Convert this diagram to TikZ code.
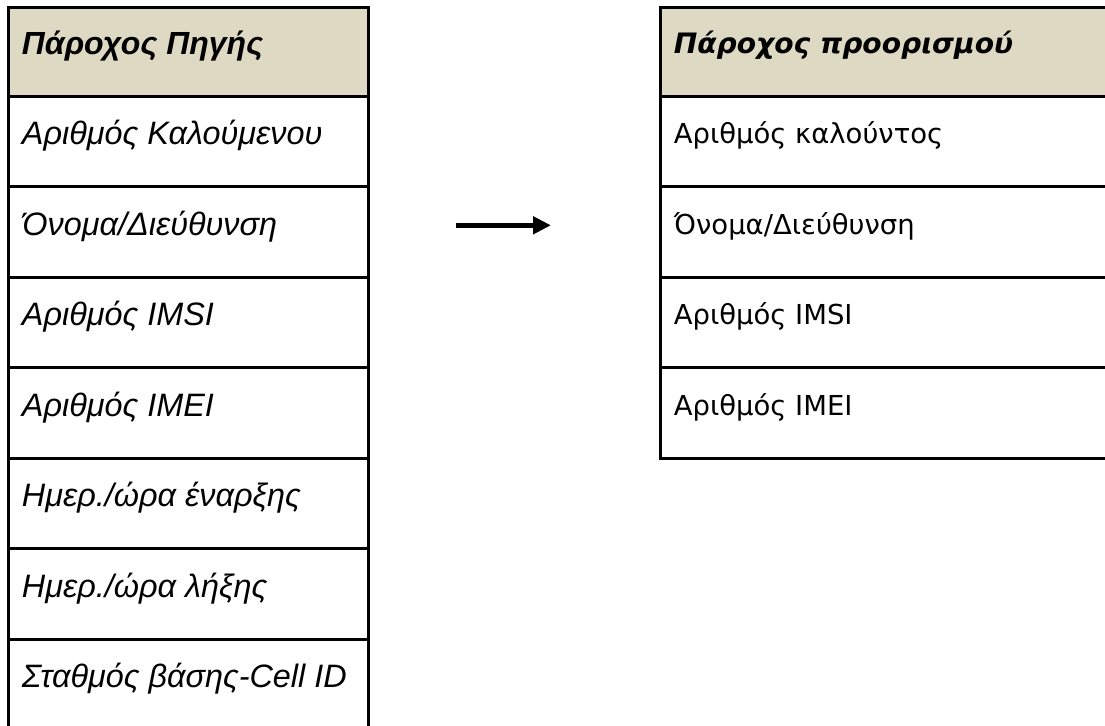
\documentclass[tikz,border=0pt]{standalone}
\usepackage{fontspec}
\setmainfont{Liberation Sans}
\newfontfamily\destfont{DejaVu Sans}
\usetikzlibrary{arrows.meta}
\definecolor{headtan}{HTML}{DDD9C3}
\begin{document}
\begin{tikzpicture}[x=0.75pt,y=-0.75pt,
  cell/.style={draw=black, line width=2pt, inner sep=0pt, outer sep=0pt,
    anchor=north west, minimum height=67.875pt},
  srccell/.style={cell, minimum width=269.7pt},
  dstcell/.style={cell, minimum width=350pt},
  head/.style={fill=headtan, minimum height=66.5pt},
  srctext/.style={anchor=base west, inner sep=0pt, font=\fontsize{24.3}{29}\selectfont\itshape},
  srchead/.style={srctext, font=\fontsize{24}{29}\selectfont\bfseries\itshape},
  dsttext/.style={anchor=base west, inner sep=0pt, font=\destfont\fontsize{20.6}{25}\selectfont},
  dsthead/.style={dsttext, font=\destfont\fontsize{21.1}{25}\selectfont\bfseries\itshape}]
\useasboundingbox (0,0) rectangle (1105,725);

% source provider table
\node[srccell, head] (sh) at (8.7,7.3) {};
\node[srccell] (s1) at (8.7,96.3) {};
\node[srccell] (s2) at (8.7,186.8) {};
\node[srccell] (s3) at (8.7,277.3) {};
\node[srccell] (s4) at (8.7,367.8) {};
\node[srccell] (s5) at (8.7,458.3) {};
\node[srccell] (s6) at (8.7,548.8) {};
\node[srccell] (s7) at (8.7,639.3) {};

\node[srchead] (tsh) at ([shift={(13,47)}]sh.north west) {Πάροχος Πηγής};
\node[srctext] (ts1) at ([shift={(13,48.5)}]s1.north west) {Αριθμός Καλούμενου};
\node[srctext] (ts2) at ([shift={(13,48.5)}]s2.north west) {Όνομα/Διεύθυνση};
\node[srctext] (ts3) at ([shift={(13,48.5)}]s3.north west) {Αριθμός IMSI};
\node[srctext] (ts4) at ([shift={(13,48.5)}]s4.north west) {Αριθμός IMEI};
\node[srctext] (ts5) at ([shift={(13,48.5)}]s5.north west) {Ημερ./ώρα έναρξης};
\node[srctext] (ts6) at ([shift={(13,48.5)}]s6.north west) {Ημερ./ώρα λήξης};
\node[srctext] (ts7) at ([shift={(13,48.5)}]s7.north west) {Σταθμός βάσης-Cell ID};

% destination provider table
\node[dstcell, head] (dh) at (660.5,7.3) {};
\node[dstcell] (d1) at (660.5,96.3) {};
\node[dstcell] (d2) at (660.5,186.8) {};
\node[dstcell] (d3) at (660.5,277.3) {};
\node[dstcell] (d4) at (660.5,367.8) {};

\node[dsthead] (tdh) at ([shift={(13,46.5)}]dh.north west) {Πάροχος προορισμού};
\node[dsttext] (td1) at ([shift={(13,47.5)}]d1.north west) {Αριθμός καλούντος};
\node[dsttext] (td2) at ([shift={(13,47.5)}]d2.north west) {Όνομα/Διεύθυνση};
\node[dsttext] (td3) at ([shift={(13,47.5)}]d3.north west) {Αριθμός IMSI};
\node[dsttext] (td4) at ([shift={(13,47.5)}]d4.north west) {Αριθμός IMEI};

% transfer arrow
\coordinate (arrfrom) at (456,225.3);
\coordinate (arrto) at (551,225.3);
\draw[line width=3.4pt, -{Triangle[length=13.5pt, width=12.75pt]}] (arrfrom) -- (arrto);
\end{tikzpicture}
\end{document}
